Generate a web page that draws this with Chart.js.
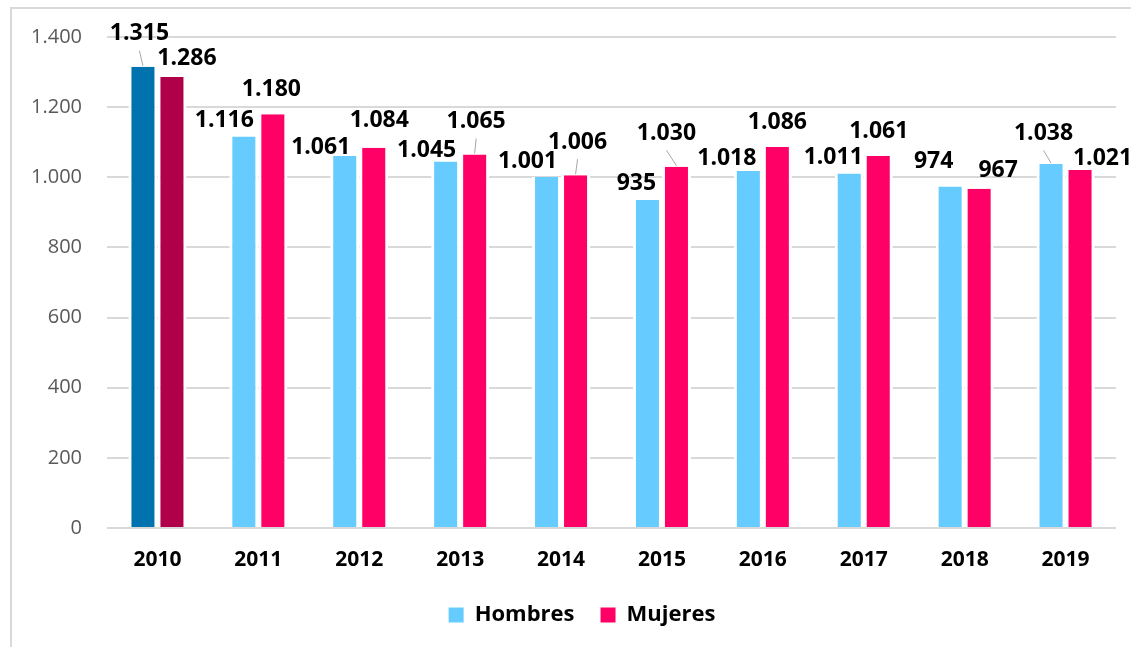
<!DOCTYPE html>
<html>
<head>
<meta charset="utf-8">
<script src="https://cdn.jsdelivr.net/npm/chart.js@4.4.1/dist/chart.umd.min.js"></script>
<style>
  body { margin: 0; background: #fff; overflow: hidden; }
  #frame { position: absolute; left: 10px; top: 7px; width: 1200px; height: 700px; border: 2px solid #d9d9d9; }
  #wrap { position: absolute; left: 0; top: 0; width: 1131px; height: 647px; }
</style>
</head>
<body>
<div id="frame"></div>
<div id="wrap"><canvas id="chart" width="1131" height="647"></canvas></div>
<script>
// --- data ---
const years = ['2010', '2011', '2012', '2013', '2014', '2015', '2016', '2017', '2018', '2019'];
const hombres = [1315, 1116, 1061, 1045, 1001, 935, 1018, 1011, 974, 1038];
const mujeres = [1286, 1180, 1084, 1065, 1006, 1030, 1086, 1061, 967, 1021];
const yTicks = [0, 200, 400, 600, 800, 1000, 1200, 1400];

// label nudges (px, relative to the bar top centre) as placed in the original
const hombresShiftX = [-3.5, -19.5, -24, -19, -19, -11, -21.5, -16, -16.5, -7.5];
const hombresShiftY = [-35, -18.5, -10, -13.5, -17, -19, -14, -18, -27, -32.5];
const mujeresShiftX = [15, -1.5, 5.5, 1.5, 2, -10, 0, 0.5, 19, 22.5];
const mujeresShiftY = [-20, -27, -29, -35, -35, -35.5, -27, -26, -20.5, -13];
const hombresLeader = [0, 9];
const mujeresLeader = [3, 4, 5];

// colours
const hombresColor = '#66ccff';
const mujeresColor = '#ff0066';
const hombresFirst = '#0072ad';
const mujeresFirst = '#b0004a';

const FONT = '"Open Sans", Lato, sans-serif';

function fmt(v) {
    return String(v).replace(/\B(?=(\d{3})+(?!\d))/g, '.');
}

// first year is highlighted in a darker shade, legend keeps the normal one
function pick(first, normal) {
    return c => (c.type === 'data' && c.dataIndex === 0) ? first : normal;
}

const labelPlugin = {
    id: 'barLabels',
    afterLayout(chart) {
        // legend sits centred under the plot area in the original, not the canvas
        if (chart.legend) chart.legend.left = 48;
    },
    afterDatasetsDraw(chart) {
        const ctx = chart.ctx;
        const sets = [
            { data: hombres, dx: hombresShiftX, dy: hombresShiftY, leader: hombresLeader },
            { data: mujeres, dx: mujeresShiftX, dy: mujeresShiftY, leader: mujeresLeader }
        ];
        ctx.save();
        ctx.font = 'bold 23px ' + FONT;
        ctx.textAlign = 'center';
        ctx.textBaseline = 'alphabetic';
        sets.forEach((s, di) => {
            const meta = chart.getDatasetMeta(di);
            meta.data.forEach((bar, i) => {
                const cx = bar.x + s.dx[i];
                const cy = bar.y + s.dy[i];
                if (s.leader.includes(i)) {
                    ctx.strokeStyle = '#a6a6a6';
                    ctx.lineWidth = 1;
                    ctx.beginPath();
                    ctx.moveTo(cx, cy + 19);
                    ctx.lineTo(bar.x, bar.y - 1);
                    ctx.stroke();
                }
                ctx.fillStyle = '#000';
                ctx.fillText(fmt(s.data[i]), cx, cy + 8.5);
            });
        });
        ctx.restore();
    }
};

const ctx = document.getElementById('chart').getContext('2d');
new Chart(ctx, {
    type: 'bar',
    data: {
        labels: years,
        datasets: [
            {
                label: 'Hombres',
                data: hombres,
                backgroundColor: pick(hombresFirst, hombresColor),
                borderColor: '#ffffff',
                borderWidth: { left: 3, right: 3, top: 0, bottom: 0 },
                borderSkipped: false,
                categoryPercentage: 0.575,
                barPercentage: 1
            },
            {
                label: 'Mujeres',
                data: mujeres,
                backgroundColor: pick(mujeresFirst, mujeresColor),
                borderColor: '#ffffff',
                borderWidth: { left: 3, right: 3, top: 0, bottom: 0 },
                borderSkipped: false,
                categoryPercentage: 0.575,
                barPercentage: 1
            }
        ]
    },
    options: {
        responsive: false,
        animation: false,
        layout: { padding: { left: 0, right: 15, top: 37, bottom: 11 } },
        plugins: {
            title: { display: false },
            tooltip: { enabled: false },
            legend: {
                position: 'bottom',
                labels: {
                    boxWidth: 15,
                    boxHeight: 15,
                    padding: 26,
                    color: '#000',
                    font: { family: FONT, size: 22, weight: 'bold' },
                    generateLabels: chart => chart.data.datasets.map((d, i) => ({
                        text: d.label,
                        fillStyle: i === 0 ? hombresColor : mujeresColor,
                        strokeStyle: i === 0 ? hombresColor : mujeresColor,
                        lineWidth: 0,
                        datasetIndex: i
                    }))
                }
            }
        },
        scales: {
            x: {
                grid: { display: false, drawTicks: false },
                border: { display: false },
                ticks: {
                    color: '#000',
                    padding: 19,
                    font: { family: FONT, size: 21, weight: 'bold' }
                },
                afterFit: s => { s.height = 50; }
            },
            y: {
                min: 0,
                max: 1400,
                afterBuildTicks: s => { s.ticks = yTicks.map(v => ({ value: v })); },
                grid: { color: '#d9d9d9', lineWidth: 2, drawTicks: false },
                border: { display: false },
                ticks: {
                    color: '#595959',
                    padding: 25,
                    font: { family: FONT, size: 20 },
                    callback: v => fmt(v)
                },
                afterFit: s => { s.width = 107; }
            }
        }
    },
    plugins: [labelPlugin]
});
</script>
</body>
</html>
